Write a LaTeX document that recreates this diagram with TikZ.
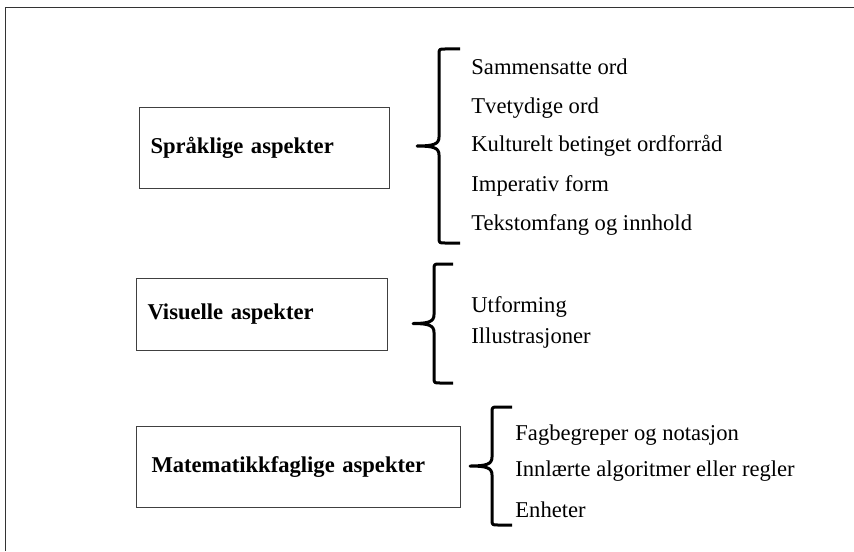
\documentclass[tikz,border=0pt]{standalone}
\usepackage{fontspec}
\setmainfont{Liberation Serif}
\usetikzlibrary{positioning}

% #1 end x, #2 spine x, #3 tip x, #4 top y, #5 bottom y
\newcommand{\aspectbrace}[5]{%
  \draw[curly] (#1,#4) -- ({#2+6},#4) .. controls (#2,#4) .. (#2,{#4+6})
    -- (#2,{(#4+#5)/2-9}) .. controls (#2,{(#4+#5)/2-2}) and ({#2-5},{(#4+#5)/2}) .. (#3,{(#4+#5)/2})
    .. controls ({#2-5},{(#4+#5)/2}) and (#2,{(#4+#5)/2+2}) .. (#2,{(#4+#5)/2+9})
    -- (#2,{#5-6}) .. controls (#2,#5) .. ({#2+6},#5) -- (#1,#5);}

\begin{document}
\begin{tikzpicture}[x=0.5pt, y=-0.5pt,
  aspect/.style={draw=black!75, line width=0.5pt, anchor=north west,
    font=\fontsize{11.3}{13}\selectfont\bfseries, align=left,
    inner xsep=5.5pt, inner ysep=0pt},
  item/.style={anchor=base west, inner sep=0pt, font=\fontsize{11.3}{13}\selectfont},
  curly/.style={line width=1.5pt, line cap=butt, line join=round}]
\useasboundingbox (0,0) rectangle (854,551);
% frame
\draw[line width=0.75pt, black!80] (5.5,551) -- (5.5,7.5) -- (854,7.5);

% aspects
\node (spr) [aspect, text width=114pt, minimum height=40.5pt] at (139,107) {Språklige aspekter};
\node (vis) [aspect, text width=114.5pt, minimum height=36pt] at (136,278) {Visuelle aspekter};
\node (mat) [aspect, text width=147pt, inner xsep=7.5pt, minimum height=40.5pt] at (136,426) {Matematikkfaglige aspekter};

% braces
\aspectbrace{460}{439}{417}{49}{243}
\aspectbrace{453}{434}{413}{264}{383}
\aspectbrace{512}{492}{470}{407}{525}

% items
\node (s1) [item] at (471,75) {Sammensatte ord};
\node (s2) [item] at (471,113) {Tvetydige ord};
\node (s3) [item] at (471,151) {Kulturelt betinget ordforråd};
\node (s4) [item] at (471,191) {Imperativ form};
\node (s5) [item] at (471,230) {Tekstomfang og innhold};
\node (v1) [item] at (471,312) {Utforming};
\node (v2) [item] at (471,343) {Illustrasjoner};
\node (m1) [item] at (515,440) {Fagbegreper og notasjon};
\node (m2) [item] at (515,476) {Innlærte algoritmer eller regler};
\node (m3) [item] at (515,517) {Enheter};
\end{tikzpicture}
\end{document}
